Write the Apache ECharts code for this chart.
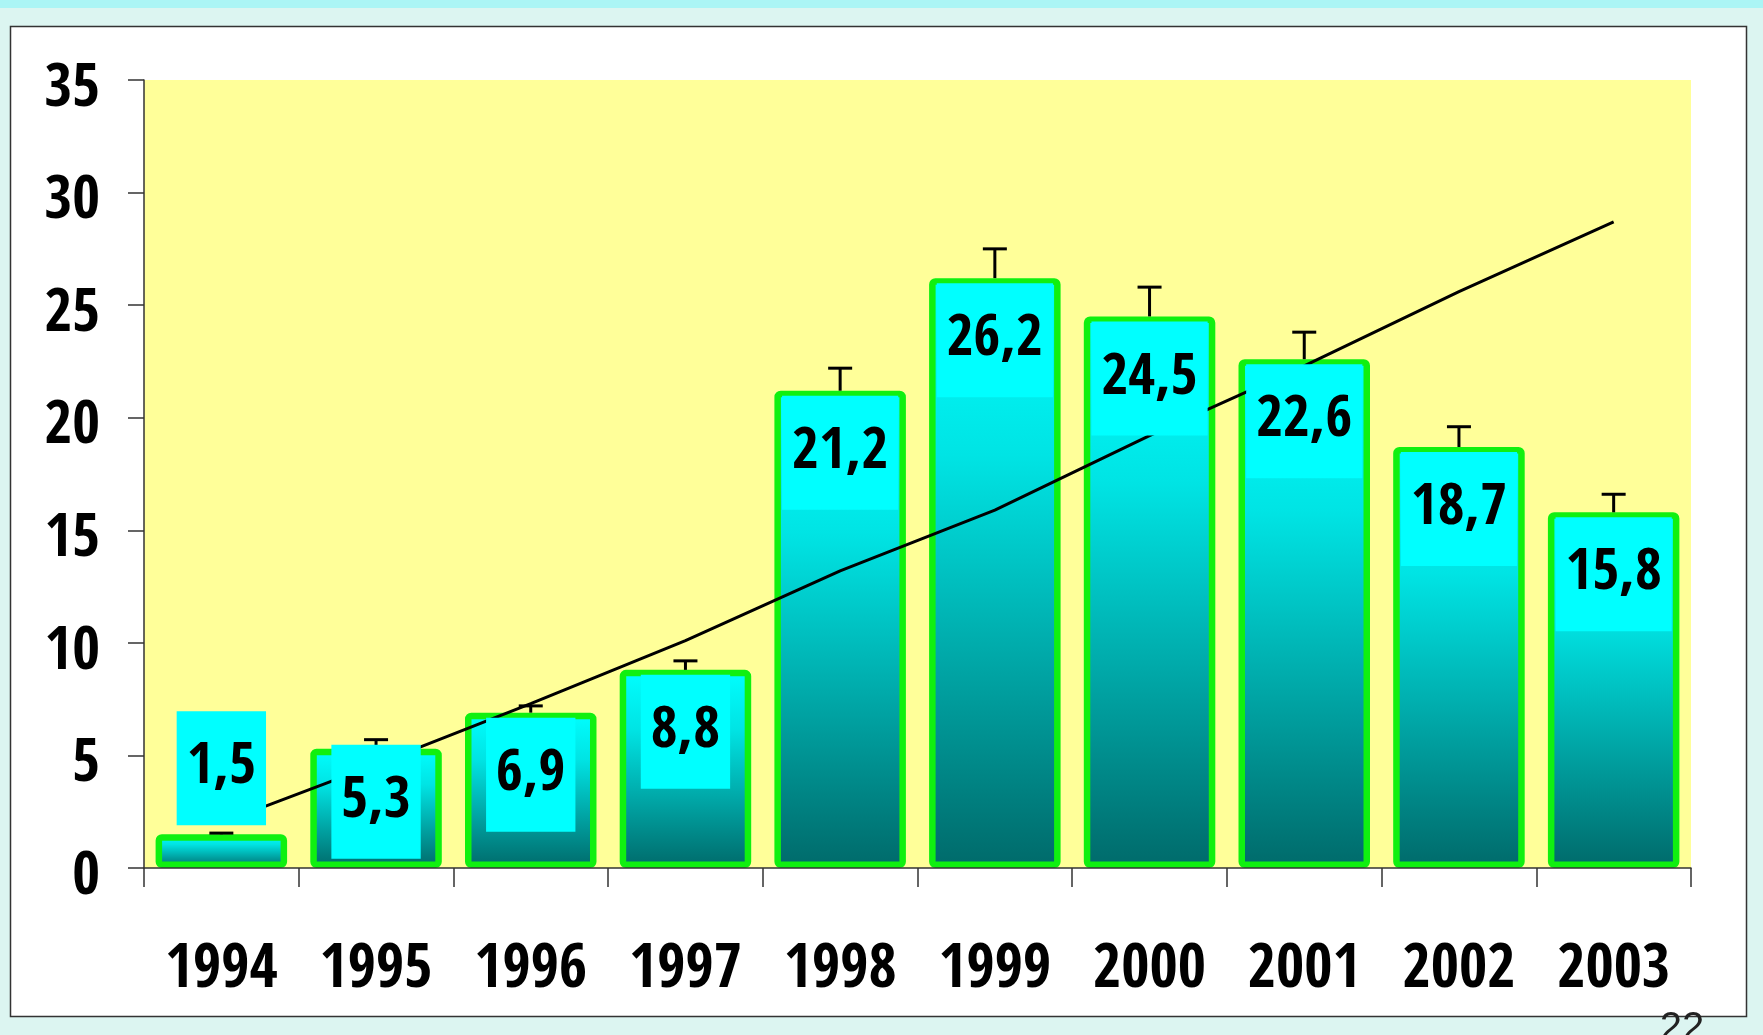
<!DOCTYPE html>
<html>
<head>
<meta charset="utf-8">
<title>1994–2003</title>
<script src="https://cdn.jsdelivr.net/npm/echarts@6/dist/echarts.min.js"></script>
<style>
  html, body { margin: 0; padding: 0; background: #dcf5f1; }
  #chart { width: 1763px; height: 1035px; }
</style>
</head>
<body>
<div id="chart"></div>
<script>
// Yearly values with upper error bars and a trend line
const years = ['1994', '1995', '1996', '1997', '1998', '1999', '2000', '2001', '2002', '2003'];
const values = [1.5, 5.3, 6.9, 8.8, 21.2, 26.2, 24.5, 22.6, 18.7, 15.8];
const errors = [0.05, 0.4, 0.3, 0.4, 1.0, 1.3, 1.3, 1.2, 0.9, 0.8];
const trend = [2.0, 4.6, 7.3, 10.1, 13.2, 15.9, 19.2, 22.3, 25.6, 28.7];
const yMin = 0, yMax = 35, yStep = 5;

const FONT = '"Open Sans Condensed", "Roboto Condensed", "Liberation Sans Narrow", sans-serif';

const chart = echarts.init(document.getElementById('chart'), null, { renderer: 'canvas' });

const barFill = new echarts.graphic.LinearGradient(0, 0, 0, 1, [
  { offset: 0, color: '#00ffff' },
  { offset: 0.3, color: '#00e4e4' },
  { offset: 1, color: '#006a6a' }
]);

const baseLabel = {
  show: true,
  position: 'insideTop',
  distance: 5,
  formatter: p => String(p.value).replace('.', ','),
  fontFamily: FONT,
  fontWeight: 'bold',
  fontSize: 58,
  lineHeight: 58,
  color: '#000',
  backgroundColor: '#00ffff',
  padding: [28, 10]
};

// Label boxes: most sit at the top inside the bar, the first two are shifted
const labelData = values.map((v, i) => {
  if (i === 0) return { value: v, label: { position: 'top', distance: 9 } };
  if (i === 1) return { value: v, label: { offset: [0, -9] } };
  return { value: v };
});

const errorData = values.map((v, i) => [i, v, errors[i]]);

chart.setOption({
  animation: false,
  backgroundColor: '#dcf5f1',
  graphic: [
    { type: 'rect', z: -10, silent: true,
      shape: { x: 0, y: 0, width: 1763, height: 8 },
      style: { fill: '#abf5f5' } },
    { type: 'rect', z: -10, silent: true,
      shape: { x: 10.5, y: 26.5, width: 1736, height: 990 },
      style: { fill: '#ffffff', stroke: '#333333', lineWidth: 1.5 } },
    { type: 'text', z: 10, silent: true,
      style: { text: '22', x: 1682, y: 1009, fill: '#222222',
               font: 'normal 40px "Liberation Sans", sans-serif',
               textAlign: 'center', textVerticalAlign: 'top' } }
  ],
  grid: {
    left: 144, right: 72, top: 80, bottom: 167,
    show: true, backgroundColor: '#ffff99', borderWidth: 0,
    containLabel: false
  },
  xAxis: {
    type: 'category',
    data: years,
    boundaryGap: true,
    axisLine: { show: true, lineStyle: { color: '#333333', width: 1.5 } },
    axisTick: { show: true, length: 19, lineStyle: { color: '#333333', width: 1.5 } },
    axisLabel: { interval: 0, fontFamily: FONT, fontWeight: 'bold', fontSize: 61, lineHeight: 61,
                 color: '#000', margin: 73 },
    splitLine: { show: false },
    z: 6
  },
  yAxis: {
    type: 'value',
    min: yMin, max: yMax, interval: yStep,
    axisLine: { show: true, lineStyle: { color: '#333333', width: 1.5 } },
    axisTick: { show: true, length: 16, lineStyle: { color: '#333333', width: 1.5 } },
    axisLabel: { fontFamily: FONT, fontWeight: 'bold', fontSize: 60, color: '#000', margin: 44,
                 verticalAlign: 'top', lineHeight: 20 },
    splitLine: { show: false },
    z: 6
  },
  series: [
    {
      name: 'bars',
      type: 'bar',
      data: values,
      barWidth: '85%',
      barGap: '-100%',
      z: 2,
      itemStyle: { color: barFill, borderColor: '#10f010', borderWidth: 6.5, borderRadius: 3 }
    },
    {
      name: 'errors',
      type: 'custom',
      z: 3,
      data: errorData,
      encode: { x: 0, y: 1 },
      renderItem: function (params, api) {
        const i = api.value(0), v = api.value(1), e = api.value(2);
        const base = api.coord([i, v]);
        const tip = api.coord([i, v + e]);
        const st = { stroke: '#000', lineWidth: 3 };
        return {
          type: 'group',
          children: [
            { type: 'line', shape: { x1: base[0], y1: base[1], x2: tip[0], y2: tip[1] }, style: st },
            { type: 'line', shape: { x1: tip[0] - 12, y1: tip[1], x2: tip[0] + 12, y2: tip[1] }, style: st }
          ]
        };
      }
    },
    {
      name: 'trend',
      type: 'line',
      data: trend,
      z: 4,
      symbol: 'none',
      smooth: false,
      lineStyle: { color: '#000', width: 3 }
    },
    {
      name: 'labels',
      type: 'bar',
      data: labelData,
      barWidth: '85%',
      barGap: '-100%',
      z: 5,
      silent: true,
      itemStyle: { color: 'rgba(0,0,0,0)', borderWidth: 0 },
      label: baseLabel
    }
  ]
});
</script>
</body>
</html>
